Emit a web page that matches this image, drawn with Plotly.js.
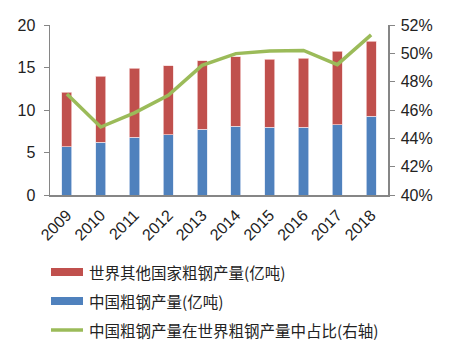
<!DOCTYPE html>
<html>
<head>
<meta charset="utf-8">
<script src="https://cdn.plot.ly/plotly-3.0.1.min.js"></script>
<style>html,body{margin:0;padding:0;background:#fff;}#chart{width:459px;height:353px;}</style>
</head>
<body>
<div id="chart"></div>
<script>
var years = ['2009','2010','2011','2012','2013','2014','2015','2016','2017','2018'];
var chinaSteel = [5.65, 6.2, 6.82, 7.06, 7.72, 8.08, 7.96, 8.0, 8.27, 9.26];
var otherSteel = [6.43, 7.76, 8.08, 8.12, 8.08, 8.19, 8.0, 8.08, 8.63, 8.82];
var chinaShare = [0.4713, 0.448, 0.458, 0.4704, 0.4915, 0.4998, 0.5016, 0.502, 0.492, 0.513];
var legendLabels = ['世界其他国家粗钢产量(亿吨)', '中国粗钢产量(亿吨)', '中国粗钢产量在世界粗钢产量中占比(右轴)'];
var colors = ['#C0504D', '#4F81BD', '#9BBB59'];

var traces = [
  {type:'bar', x:years, y:chinaSteel, name:legendLabels[1], marker:{color:colors[1], line:{color:'rgba(220,230,245,0.9)', width:0.8}}, width:0.3, showlegend:false},
  {type:'bar', x:years, y:otherSteel, name:legendLabels[0], marker:{color:colors[0], line:{color:'rgba(245,215,215,0.9)', width:0.8}}, width:0.3, showlegend:false},
  {type:'scatter', mode:'lines', x:years, y:chinaShare, yaxis:'y2', name:legendLabels[2], line:{color:colors[2], width:3.5}, showlegend:false}
];

var tickFont = {family:'"Liberation Sans", Arial, sans-serif', size:16, color:'#222'};
var legFont = {family:'"Noto Sans CJK SC", sans-serif', size:15.5, color:'#222'};

// custom legend (paper coords): plot area y from 25 to 195 px => height 170
function py(pix){ return (195 - pix)/170; }
function px(pix){ return (pix - 50)/338; }
var legendY = [272, 301, 330];
var shapes = [], annotations = [];
for (var i=0;i<3;i++){
  if (i<2){
    shapes.push({type:'rect', xref:'paper', yref:'paper', x0:px(51), x1:px(83), y0:py(legendY[i]+4), y1:py(legendY[i]-4), fillcolor:colors[i], line:{width:0}});
  } else {
    shapes.push({type:'line', xref:'paper', yref:'paper', x0:px(51), x1:px(83), y0:py(legendY[i]), y1:py(legendY[i]), line:{color:colors[i], width:3.5}});
  }
  annotations.push({xref:'paper', yref:'paper', x:px(87), y:py(legendY[i]), text:legendLabels[i], showarrow:false, xanchor:'left', yanchor:'middle', font:legFont});
}

var layout = {
  width:459, height:353,
  margin:{l:50, r:71, t:25, b:158, pad:0},
  barmode:'stack',
  paper_bgcolor:'#fff', plot_bgcolor:'#fff',
  showlegend:false,
  xaxis:{type:'category', tickangle:-45, tickfont:tickFont, showline:true, linecolor:'#868686', linewidth:1.5, ticks:'', showgrid:false, zeroline:false, ticklabelstandoff:3},
  yaxis:{range:[0,20], dtick:5, tickfont:tickFont, showline:true, linecolor:'#868686', linewidth:1.5, ticks:'outside', ticklen:5, tickcolor:'#868686', showgrid:false, zeroline:false, ticklabelstandoff:5},
  yaxis2:{overlaying:'y', side:'right', range:[0.40,0.52], dtick:0.02, tickformat:'.0%', tickfont:tickFont, showline:true, linecolor:'#868686', linewidth:1.5, ticks:'outside', ticklen:5, tickcolor:'#868686', showgrid:false, zeroline:false, ticklabelstandoff:3},
  shapes:shapes,
  annotations:annotations
};
Plotly.newPlot('chart', traces, layout, {displayModeBar:false, staticPlot:true});
</script>
</body>
</html>
